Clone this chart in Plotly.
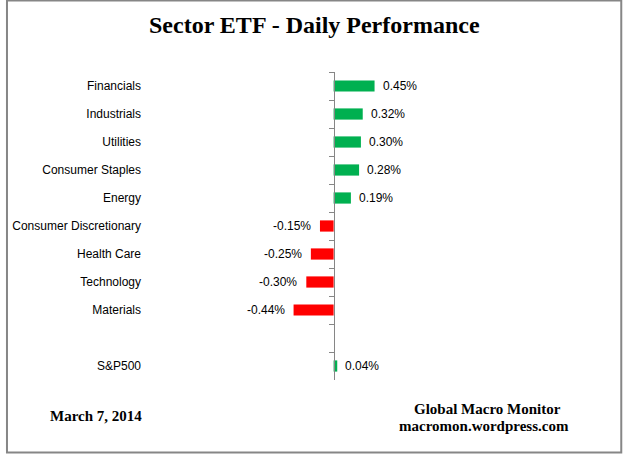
import plotly.graph_objects as go

categories = ["Financials", "Industrials", "Utilities", "Consumer Staples", "Energy",
              "Consumer Discretionary", "Health Care", "Technology", "Materials", " ", "S&P500"]
values = [0.45, 0.32, 0.30, 0.28, 0.19, -0.15, -0.25, -0.30, -0.44, None, 0.04]
value_labels = ["0.45%", "0.32%", "0.30%", "0.28%", "0.19%", "-0.15%", "-0.25%", "-0.30%", "-0.44%", "", "0.04%"]

title = "Sector ETF - Daily Performance"
date_text = "March 7, 2014"
source_lines = ["Global Macro Monitor", "macromon.wordpress.com"]

GREEN = "#00B050"
RED = "#FF0000"
W, H = 625, 455
ML, MR, MT, MB = 137, 25, 72, 75
PX_PER_UNIT = 92.0
ZERO_PX = 330.7
xmin = (ML - ZERO_PX) / PX_PER_UNIT
xmax = (W - MR - ZERO_PX) / PX_PER_UNIT

colors = [GREEN if (v is not None and v >= 0) else RED for v in values]

fig = go.Figure()
fig.add_trace(go.Bar(
    x=values, y=categories, orientation="h",
    marker=dict(color=colors, line=dict(width=0)),
    hoverinfo="skip", showlegend=False, yaxis="y",
))
# invisible trace on the axis drawn at x=0
fig.add_trace(go.Scatter(
    x=[0] * len(categories), y=categories, mode="markers",
    marker=dict(opacity=0), hoverinfo="skip", showlegend=False, yaxis="y2",
))

LABEL_FONT = dict(family="Liberation Sans, Arial", size=12, color="black")
SERIF = "Liberation Serif, Times New Roman"

annotations = []
for c, v, t in zip(categories, values, value_labels):
    if v is None:
        continue
    annotations.append(dict(
        x=v, y=c, xref="x", yref="y", text=t, showarrow=False,
        xanchor="left" if v >= 0 else "right", xshift=6 if v >= 0 else -7,
        font=LABEL_FONT,
    ))

pw = W - ML - MR
ph = H - MT - MB
def px_x(p):
    return (p - ML) / pw
def px_y(p):
    return (H - MB - p) / ph

annotations.append(dict(
    x=px_x(311.5), y=px_y(25), xref="paper", yref="paper", text="<b>%s</b>" % title,
    showarrow=False, xanchor="center", yanchor="middle",
    font=dict(family=SERIF, size=24, color="black"),
))
annotations.append(dict(
    x=px_x(91), y=px_y(416), xref="paper", yref="paper", text="<b>%s</b>" % date_text,
    showarrow=False, xanchor="center", yanchor="middle",
    font=dict(family=SERIF, size=15, color="black"),
))
for line, xpx, ypx in zip(source_lines, [486, 482.5], [409, 426]):
    annotations.append(dict(
        x=px_x(xpx), y=px_y(ypx), xref="paper", yref="paper", text="<b>%s</b>" % line,
        showarrow=False, xanchor="center", yanchor="middle",
        font=dict(family=SERIF, size=15, color="black"),
    ))

zero_pos = (0 - xmin) / (xmax - xmin)

fig.update_layout(
    width=W, height=H,
    margin=dict(l=ML, r=MR, t=MT, b=MB),
    paper_bgcolor="white", plot_bgcolor="white",
    bargap=0.6,
    xaxis=dict(range=[xmin, xmax], visible=False, showgrid=False, zeroline=False),
    yaxis=dict(
        type="category", categoryorder="array", categoryarray=categories,
        range=[len(categories) - 0.5, -0.5],
        showline=False, showgrid=False, zeroline=False, ticks="",
        tickfont=LABEL_FONT,
    ),
    yaxis2=dict(
        type="category", categoryorder="array", categoryarray=categories,
        range=[len(categories) - 0.5, -0.5],
        overlaying="y", anchor="free", position=zero_pos, side="left",
        showline=True, linecolor="#868686", linewidth=1,
        ticks="outside", ticklen=5, tickcolor="#868686", tickwidth=1,
        tickson="boundaries", showticklabels=False, showgrid=False, zeroline=False,
    ),
    annotations=annotations,
    shapes=[dict(
        type="rect", xref="paper", yref="paper",
        x0=px_x(0.5), x1=px_x(621.5), y0=px_y(452.5), y1=px_y(0.5),
        line=dict(color="#868686", width=2), fillcolor="rgba(0,0,0,0)", layer="above",
    )],
)

fig.write_html("out.html", config={"displayModeBar": False},
               post_script="document.body.style.margin='0';document.body.style.overflow='hidden';")
